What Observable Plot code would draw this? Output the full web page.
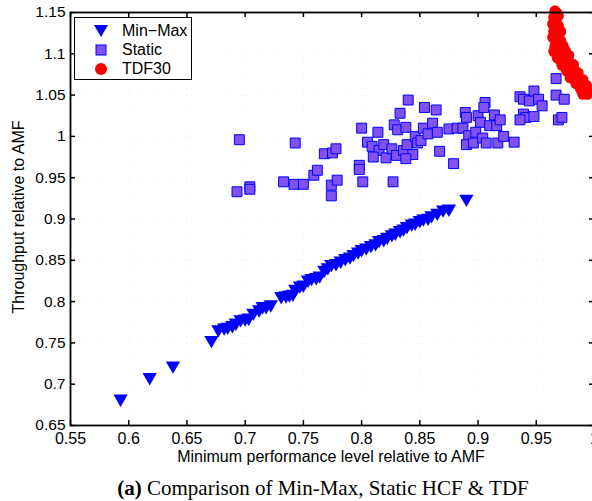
<!DOCTYPE html>
<html><head><meta charset="utf-8">
<script src="https://cdn.jsdelivr.net/npm/d3@7"></script>
<script src="https://cdn.jsdelivr.net/npm/@observablehq/plot@0.6"></script>
<style>
body{margin:0;background:#fff;}
#wrap{position:relative;width:592px;height:501px;overflow:hidden;background:#fff;font-family:"Liberation Sans",Arial,sans-serif;color:#000;}
#wrap svg{position:absolute;left:0;top:0;overflow:visible;}
.abs{position:absolute;white-space:nowrap;}
#ylab{left:19px;top:217px;transform:translate(-50%,-50%) rotate(-90deg);font-size:16px;}
#xlab{left:331px;top:457px;transform:translate(-50%,-50%);font-size:16px;line-height:16px;}
#cap{left:323px;top:488px;transform:translate(-50%,-50%);font-family:"Liberation Serif","Times New Roman",serif;font-size:21px;}
#legend{left:74px;top:17px;width:118px;height:63px;box-sizing:border-box;border:1.3px solid #000;background:#fff;}
#legend .sym{position:absolute;left:17px;width:18px;height:18px;}
#legend .txt{position:absolute;left:47px;font-size:16px;line-height:18px;}
</style></head><body><div id="wrap"></div>
<script>
const xTicks = [0.55,0.6,0.65,0.7,0.75,0.8,0.85,0.9,0.95,1];
const yTicks = [0.65,0.7,0.75,0.8,0.85,0.9,0.95,1,1.05,1.1,1.15];
const seriesNames = ["Min\u2212Max","Static","TDF30"];

const minMaxX = [0.593,0.618,0.638,0.671,0.677,0.682,0.685,0.689,0.692,0.696,0.700,0.703,0.707,0.712,0.715,0.718,0.722,0.731,0.735,0.738,0.741,0.743,0.747,0.750,0.754,0.757,0.761,0.764,0.768,0.771,0.774,0.778,0.782,0.786,0.790,0.793,0.797,0.800,0.804,0.808,0.812,0.815,0.819,0.822,0.826,0.829,0.833,0.836,0.839,0.843,0.846,0.850,0.853,0.857,0.860,0.865,0.870,0.875,0.890];
const minMaxY = [0.680,0.706,0.720,0.751,0.764,0.766,0.767,0.769,0.772,0.776,0.777,0.778,0.784,0.788,0.792,0.792,0.794,0.804,0.805,0.806,0.807,0.813,0.817,0.818,0.824,0.826,0.827,0.829,0.836,0.839,0.843,0.844,0.847,0.850,0.852,0.855,0.858,0.861,0.863,0.866,0.868,0.872,0.873,0.876,0.879,0.881,0.884,0.886,0.889,0.892,0.893,0.896,0.898,0.899,0.902,0.905,0.909,0.910,0.922];

const staticX = [0.695,0.693,0.704,0.704,0.733,0.742,0.743,0.750,0.759,0.762,0.768,0.775,0.778,0.774,0.779,0.774,0.798,0.798,0.801,0.800,0.814,0.805,0.809,0.815,0.819,0.810,0.821,0.826,0.830,0.827,0.828,0.831,0.838,0.833,0.840,0.854,0.864,0.836,0.839,0.844,0.838,0.846,0.848,0.851,0.853,0.857,0.861,0.865,0.867,0.879,0.875,0.882,0.887,0.889,0.890,0.900,0.902,0.892,0.898,0.890,0.896,0.904,0.907,0.906,0.905,0.910,0.914,0.916,0.919,0.917,0.922,0.931,0.936,0.939,0.944,0.948,0.952,0.955,0.939,0.941,0.948,0.936,0.967,0.967,0.974,0.969,0.972];
const staticY = [0.996,0.933,0.939,0.936,0.945,0.942,0.992,0.942,0.953,0.959,0.979,0.980,0.985,0.941,0.947,0.928,0.965,0.960,0.945,1.010,1.005,0.993,0.988,0.983,0.990,0.975,0.974,0.985,0.977,0.945,1.014,1.008,1.011,1.028,1.044,1.035,1.032,0.983,0.990,0.978,0.973,1.000,0.992,0.995,1.010,1.003,1.016,1.005,0.982,0.967,1.009,1.010,1.010,1.029,1.023,1.025,1.017,1.001,1.005,0.990,0.992,0.998,0.992,1.041,1.035,1.013,1.026,1.013,1.020,0.992,1.000,0.993,1.048,1.045,1.043,1.055,1.045,1.037,1.027,1.023,1.024,1.020,1.070,1.050,1.045,1.020,1.023];

const tdfX = [0.966,0.968,0.965,0.967,0.964,0.966,0.969,0.965,0.967,0.970,0.966,0.968,0.971,0.966,0.969,0.972,0.967,0.971,0.974,0.970,0.973,0.977,0.972,0.976,0.979,0.976,0.979,0.983,0.979,0.983,0.985,0.984,0.987,0.989,0.988,0.991,0.993,0.990,0.994,0.969,0.971,0.964,0.973,0.975,0.965,0.978,0.968,0.982,0.986,0.990,0.993,0.996,0.981,0.987];
const tdfY = [1.152,1.149,1.144,1.140,1.136,1.132,1.134,1.127,1.122,1.126,1.117,1.114,1.116,1.109,1.105,1.108,1.100,1.098,1.102,1.093,1.091,1.094,1.086,1.083,1.087,1.079,1.076,1.080,1.071,1.069,1.073,1.064,1.062,1.065,1.057,1.054,1.058,1.051,1.051,1.146,1.127,1.120,1.110,1.104,1.103,1.098,1.095,1.087,1.077,1.069,1.062,1.056,1.075,1.068];

const zip = (xs, ys) => xs.map((x, i) => ({x, y: ys[i]}));
const minMax = zip(minMaxX, minMaxY);
const stat = zip(staticX, staticY);
const tdf = zip(tdfX, tdfY);

// downward triangle, centred on its bounding box
const triDown = {
  draw(ctx, size) {
    const s = Math.sqrt(size / (Math.sqrt(3) * 3));
    const w = Math.sqrt(3) * s, h = 1.5 * s;
    ctx.moveTo(-w, -h); ctx.lineTo(w, -h); ctx.lineTo(0, h); ctx.closePath();
  }
};

const W = 592, H = 470, mL = 70, mR = -2, mT = 12, mB = 45;
const plotW = W - mL - mR, plotH = H - mT - mB, tick = 5;
const gridStyle = {stroke: "#555", strokeWidth: 1, strokeDasharray: "1,4.5"};

const chart = Plot.plot({
  width: W, height: H,
  marginLeft: mL, marginRight: mR, marginTop: mT, marginBottom: mB,
  x: {domain: [0.55, 1]},
  y: {domain: [0.65, 1.15]},
  style: {fontFamily: '"Liberation Sans", Arial, sans-serif', fontSize: "16px", color: "#000", background: "transparent", overflow: "visible"},
  marks: [
    Plot.gridX(xTicks.slice(1, -1), gridStyle),
    Plot.gridY(yTicks.slice(1, -1), gridStyle),
    Plot.ruleX(xTicks, {insetTop: plotH - tick, stroke: "#000", strokeWidth: 1.5}),
    Plot.ruleX(xTicks, {insetBottom: plotH - tick, stroke: "#000", strokeWidth: 1.5}),
    Plot.ruleY(yTicks, {insetRight: plotW - tick, stroke: "#000", strokeWidth: 1.5}),
    Plot.ruleY(yTicks, {insetLeft: plotW - tick, stroke: "#000", strokeWidth: 1.5}),
    Plot.axisX(xTicks, {tickSize: 0, tickPadding: 7, fontSize: 16, label: null, tickFormat: d => String(d)}),
    Plot.axisY(yTicks, {tickSize: 0, tickPadding: 5, fontSize: 15.5, label: null, tickFormat: d => String(d)}),
    Plot.dot(minMax, {x: "x", y: "y", symbol: triDown, r: 5.3, fill: "#0000ff"}),
    Plot.dot(stat, {x: "x", y: "y", symbol: "square", r: 5.6, fill: "#8052f2", stroke: "#0000ff", strokeWidth: 1}),
    Plot.dot(tdf, {x: "x", y: "y", r: 5.5, fill: "#ff0000"}),
    Plot.frame({stroke: "#000", strokeWidth: 1.8})
  ]
});

const wrap = document.getElementById("wrap");
wrap.appendChild(chart);

function addDiv(id, html) {
  const d = document.createElement("div");
  d.id = id; d.className = "abs"; d.innerHTML = html;
  wrap.appendChild(d);
  return d;
}
addDiv("ylab", "Throughput relative to AMF");
addDiv("xlab", "Minimum performance level relative to AMF");
addDiv("cap", "<b>(a)</b> Comparison of Min-Max, Static HCF &amp; TDF");

const symSvg = [
  '<svg class="sym" viewBox="-9 -9 18 18"><path d="M-7,-6 L7,-6 L0,6 Z" fill="#0000ff"/></svg>',
  '<svg class="sym" viewBox="-9 -9 18 18"><rect x="-5" y="-5" width="10" height="10" fill="#8052f2" stroke="#0000ff" stroke-width="1"/></svg>',
  '<svg class="sym" viewBox="-9 -9 18 18"><circle r="6" fill="#ff0000"/></svg>'
];
const rowTop = [4, 23, 42];
let lg = '';
seriesNames.forEach((n, i) => {
  lg += symSvg[i].replace('class="sym"', `class="sym" style="top:${rowTop[i]}px"`);
  lg += `<div class="txt" style="top:${rowTop[i]}px">${n}</div>`;
});
addDiv("legend", lg);
</script></body></html>
